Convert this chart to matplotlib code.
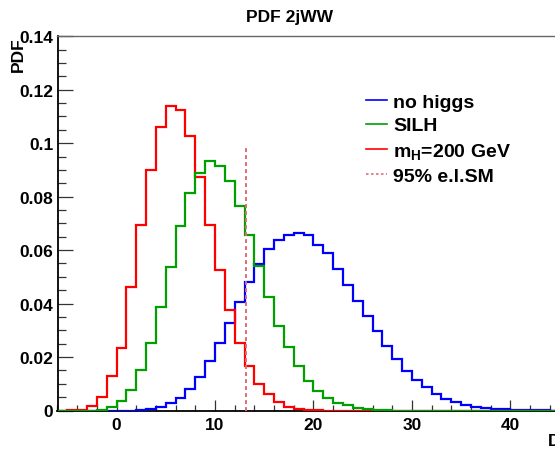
import matplotlib
matplotlib.use("Agg")
import matplotlib.pyplot as plt
from matplotlib.ticker import MultipleLocator, FuncFormatter
from matplotlib.lines import Line2D
import numpy as np

plt.rcParams['font.family'] = ['Liberation Sans', 'DejaVu Sans']
plt.rcParams['font.weight'] = 'bold'
plt.rcParams['mathtext.fontset'] = 'custom'
plt.rcParams['mathtext.rm'] = 'Liberation Sans:bold'
plt.rcParams['mathtext.it'] = 'Liberation Sans:bold'
plt.rcParams['mathtext.bf'] = 'Liberation Sans:bold'

# histogram bins of width 1, from -6 to 45
edges = np.arange(-6, 46, 1)

no_higgs = [0, 0, 0, 0, 0, 0, 0, 0, 0.0001, 0.0004,
            0.0012, 0.0029, 0.0047, 0.0082, 0.0125, 0.0185, 0.0253, 0.0326, 0.0407, 0.0481,
            0.0548, 0.0605, 0.0637, 0.0656, 0.0663, 0.0655, 0.0621, 0.0588, 0.0528, 0.0468,
            0.0410, 0.0353, 0.0297, 0.0241, 0.0191, 0.0147, 0.0113, 0.0088, 0.0062, 0.0042,
            0.0031, 0.0021, 0.0014, 0.0009, 0.0006, 0.0004, 0.0002, 0.0002, 0.0001, 0.0001,
            0]

silh = [0, 0, 0, 0, 0.0002, 0.0012, 0.0034, 0.0078, 0.0153, 0.0253,
        0.0387, 0.0538, 0.0690, 0.0814, 0.0890, 0.0934, 0.0915, 0.0858, 0.0764, 0.0655,
        0.0540, 0.0426, 0.0318, 0.0237, 0.0168, 0.0111, 0.0072, 0.0047, 0.0029, 0.0020,
        0.0010, 0.0004, 0.0002, 0.0001, 0, 0, 0, 0, 0, 0,
        0, 0, 0, 0, 0, 0, 0, 0, 0, 0,
        0]

mh200 = [0, 0.0002, 0.0003, 0.0015, 0.0050, 0.0130, 0.0235, 0.0462, 0.0693, 0.0901,
         0.1062, 0.1140, 0.1124, 0.1028, 0.0874, 0.0693, 0.0524, 0.0375, 0.0251, 0.0166,
         0.0101, 0.0060, 0.0031, 0.0014, 0.0004, 0.0002, 0.0001, 0, 0, 0,
         0, 0, 0, 0, 0, 0, 0, 0, 0, 0,
         0, 0, 0, 0, 0, 0, 0, 0, 0, 0,
         0]

cut_x = 13.1
cut_top = 0.099

labels = ['no higgs', 'SILH', 'm$_{H}$=200 GeV', '95% e.l.SM']

fig = plt.figure(figsize=(5.55, 4.52), dpi=100)
# 9.845 px per unit on x, axis runs past the right edge of the picture
ax = fig.add_axes([57.5 / 555, 40.5 / 452, 51 * 9.845 / 555, 374.2 / 452])

ax.stairs(no_higgs, edges, color='#0000ff', lw=1.6, zorder=3)
ax.stairs(mh200, edges, color='#ff0000', lw=1.6, zorder=3)
ax.stairs(silh, edges, color='#00a000', lw=1.6, zorder=3)
ax.plot([cut_x, cut_x], [0, cut_top], color='#e06b78', lw=1.4,
        dashes=(2, 1.6), zorder=4)

ax.set_xlim(-6, 45)
ax.set_ylim(0, 0.14)

ax.xaxis.set_major_locator(MultipleLocator(10))
ax.xaxis.set_minor_locator(MultipleLocator(2))
ax.yaxis.set_major_locator(MultipleLocator(0.02))
ax.yaxis.set_minor_locator(MultipleLocator(0.005))
ax.yaxis.set_major_formatter(FuncFormatter(lambda v, p: '%g' % round(v, 3)))

ax.tick_params(axis='both', which='both', direction='in', colors='#333333',
               labelcolor='black', labelsize=12.5, width=0.9)
ax.tick_params(axis='x', which='major', length=8, pad=5)
ax.tick_params(axis='x', which='minor', length=4)
ax.tick_params(axis='y', which='major', length=11, pad=3)
ax.tick_params(axis='y', which='minor', length=5.5)

ax.spines['left'].set_linewidth(1.3)
ax.spines['bottom'].set_linewidth(1.3)
ax.spines['top'].set_linewidth(1.0)
ax.spines['top'].set_color('#666666')

ax.set_title('PDF 2jWW', fontsize=12.5, fontweight='bold', pad=11,
             x=(289 - 57.5) / (51 * 9.845))
ax.set_ylabel('PDF', fontsize=12.5, fontweight='bold', loc='top', labelpad=0)
ax.yaxis.set_label_coords(-0.063, 1.0)
fig.text(548 / 555, 1 - 441.7 / 452, 'D', fontsize=12.5, fontweight='bold',
         ha='left', va='center')

handles = [Line2D([], [], color='#0000ff', lw=1.2),
           Line2D([], [], color='#00a000', lw=1.2),
           Line2D([], [], color='#ff0000', lw=1.2),
           Line2D([], [], color='#e06b78', lw=1.2, dashes=(1.5, 1.5))]
ax.legend(handles, labels, loc='upper left', bbox_to_anchor=(366 / 555, 1 - 94 / 452),
          bbox_transform=fig.transFigure, frameon=False,
          handlelength=1.1, handletextpad=0.3, labelspacing=0.32,
          borderpad=0, borderaxespad=0, prop={'weight': 'bold', 'size': 14})

fig.savefig('out.png', dpi=100, facecolor='white')
